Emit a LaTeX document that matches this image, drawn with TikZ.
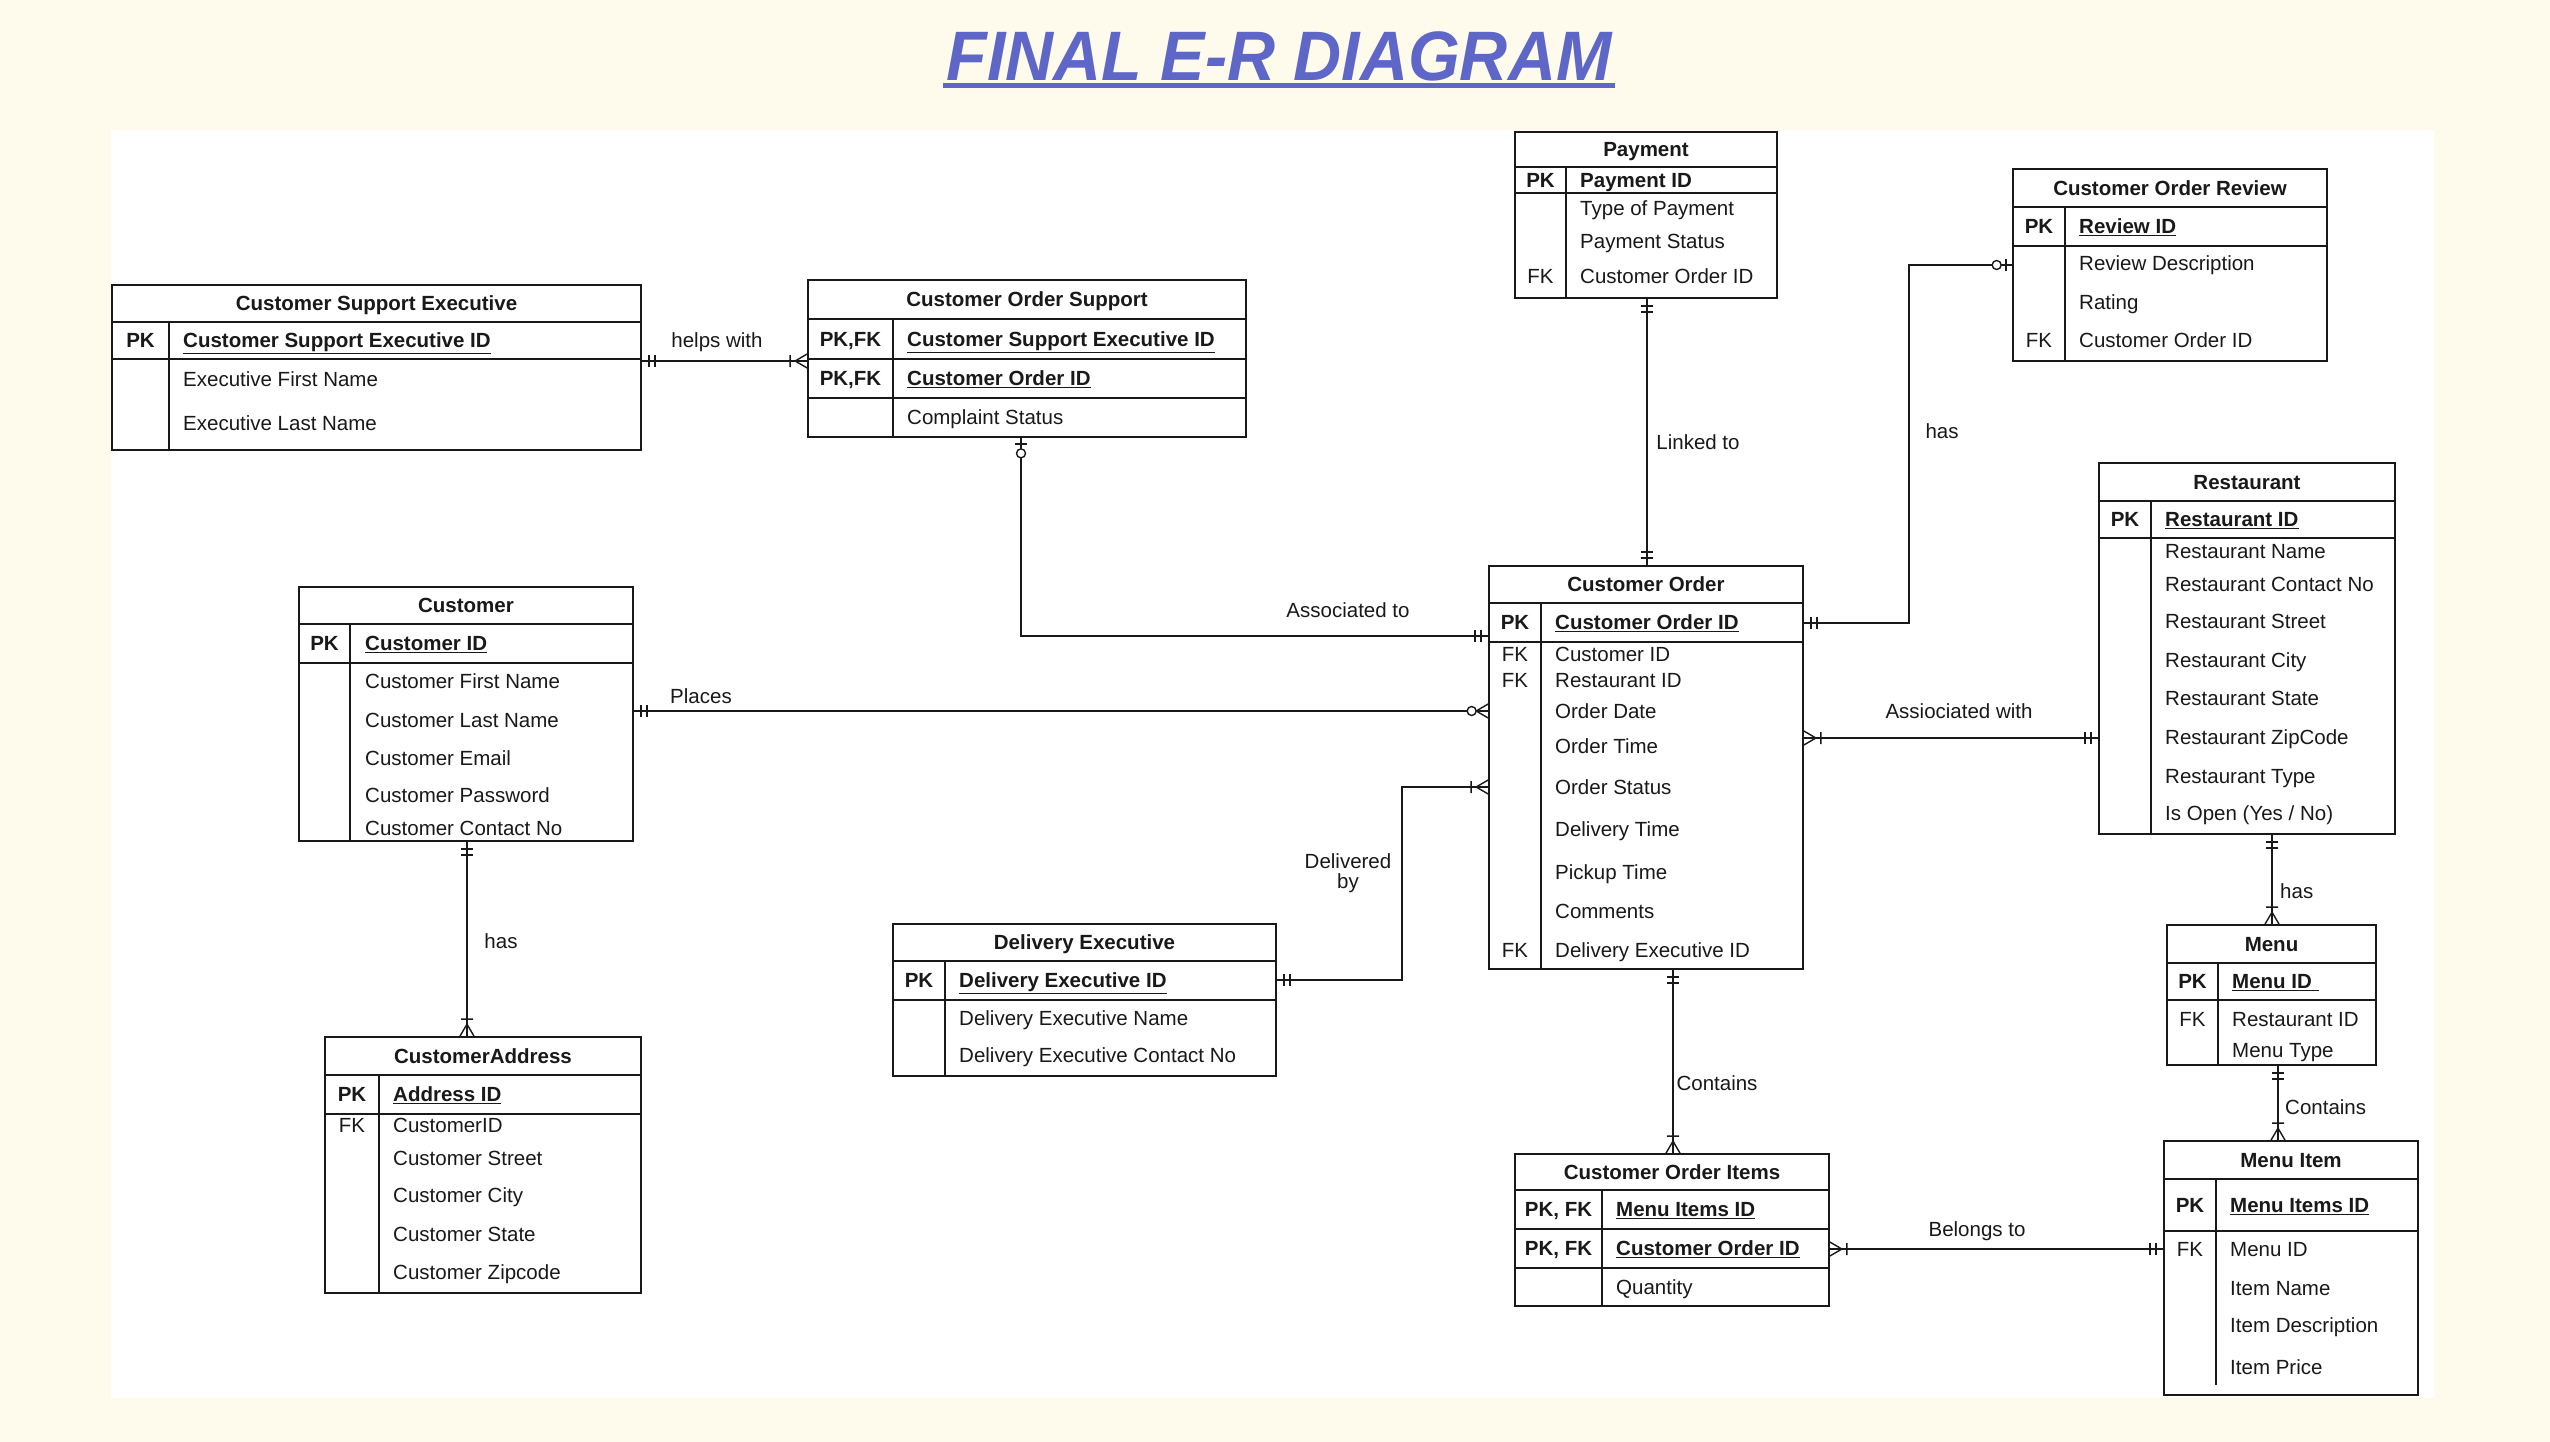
\documentclass[tikz,border=0pt]{standalone}
\usepackage{fontspec}
\setmainfont{Liberation Sans}
\newfontfamily\titlefont[FakeStretch=0.95]{Liberation Sans}
\usetikzlibrary{calc}
\definecolor{cream}{RGB}{254,250,236}
\definecolor{titleblue}{RGB}{94,103,200}
\definecolor{ink}{RGB}{25,25,25}
\tikzset{
 ebox/.style={draw=ink, line width=1.7pt, inner sep=0pt, fill=white},
 sepl/.style={draw=ink, line width=1.7pt},
 conn/.style={draw=ink, line width=1.4pt},
 ttl/.style={font=\fontsize{20.5}{24}\selectfont\bfseries, text height=14.5pt, text depth=0pt, inner sep=0pt, text=ink},
 key/.style={ttl},
 fkey/.style={font=\fontsize{20.5}{24}\selectfont, text height=14.5pt, text depth=0pt, inner sep=0pt, text=ink},
 att/.style={fkey, anchor=west},
 pka/.style={ttl, anchor=west},
 lbl/.style={font=\fontsize{20.5}{24}\selectfont, text height=14.5pt, text depth=0pt, inner sep=0pt, text=ink},
 lbltwo/.style={font=\fontsize{20.5}{20}\selectfont, inner sep=0pt, align=center, text=ink},
 pics/one/.style={code={\draw[conn] (7,-6)--(7,6) (13,-6)--(13,6);}},
 pics/onemany/.style={code={\draw[conn] (0,-7)--(12,0)--(0,7) (17,-6)--(17,6);}},
 pics/zeroone/.style={code={\draw[conn] (6,-6)--(6,6); \draw[conn, fill=white] (15.5,0) circle (4.5);}},
 pics/zeromany/.style={code={\draw[conn] (0,-7)--(12,0)--(0,7); \draw[conn, fill=white] (16.5,0) circle (4.5);}},
}
% name, x1, y1, x2, y2, divider x, header bottom, pk bottom, divider end
\newcommand\entbox[9]{%
 \node[ebox, minimum width={(#4-#2)*1pt}, minimum height={(#5-#3)*1pt}] (#1) at ({(#2+#4)/2},{(#3+#5)/2}) {};
 \draw[sepl] (#2,#7) -- (#4,#7) (#2,#8) -- (#4,#8) (#6,#7) -- (#6,#9);
}
\begin{document}
\begin{tikzpicture}[x=1pt,y=-1pt]
\useasboundingbox (0,0) rectangle (2550,1442);
\fill[cream] (0,0) rectangle (2550,1442);
\fill[white] (111,130) rectangle (2434,1398);

% title
\node[font=\titlefont\fontsize{70}{80}\selectfont\bfseries\itshape, text=titleblue, inner sep=0pt] (title) at (1279,56) {FINAL E-R DIAGRAM};
\draw[titleblue, line width=5pt] ($(title.south west)+(-3,5)$) -- ($(title.south east)+(3,5)$);

% Customer Support Executive
\entbox{cse}{112}{285}{641}{450}{169}{322}{359}{450}
\node[ttl] (cse-t) at (376.5,303.5) {Customer Support Executive};
\node[key] (cse-k1) at (140.5,340.5) {PK};
\node[pka] (cse-a1) at (183,340.5) {\underline{Customer Support Executive ID}};
\node[att] (cse-a2) at (183,379) {Executive First Name};
\node[att] (cse-a3) at (183,423) {Executive Last Name};

% Customer Order Support
\entbox{cos}{808}{280}{1246}{437}{893}{319}{359}{437}
\draw[sepl] (808,398) -- (1246,398);
\node[ttl] (cos-t) at (1027,299.5) {Customer Order Support};
\node[key] (cos-k1) at (850.5,339) {PK,FK};
\node[pka] (cos-a1) at (907,339) {\underline{Customer Support Executive ID}};
\node[key] (cos-k2) at (850.5,378.5) {PK,FK};
\node[pka] (cos-a2) at (907,378.5) {\underline{Customer Order ID}};
\node[att] (cos-a3) at (907,417.5) {Complaint Status};

% Payment
\entbox{pay}{1515}{132}{1777}{298}{1566}{167}{193}{298}
\node[ttl] (pay-t) at (1646,149.5) {Payment};
\node[key] (pay-k1) at (1540.5,180) {PK};
\node[pka] (pay-a1) at (1580,180) {\underline{Payment ID}};
\node[att] (pay-a2) at (1580,208) {Type of Payment};
\node[att] (pay-a3) at (1580,241) {Payment Status};
\node[fkey] (pay-k4) at (1540.5,276) {FK};
\node[att] (pay-a4) at (1580,276) {Customer Order ID};

% Customer Order Review
\entbox{cor}{2013}{169}{2327}{361}{2065}{207}{246}{361}
\node[ttl] (cor-t) at (2170,188) {Customer Order Review};
\node[key] (cor-k1) at (2039,226.5) {PK};
\node[pka] (cor-a1) at (2079,226.5) {\underline{Review ID}};
\node[att] (cor-a2) at (2079,263) {Review Description};
\node[att] (cor-a3) at (2079,302) {Rating};
\node[fkey] (cor-k4) at (2039,340) {FK};
\node[att] (cor-a4) at (2079,340) {Customer Order ID};

% Restaurant
\entbox{res}{2099}{463}{2395}{834}{2151}{501}{538}{834}
\node[ttl] (res-t) at (2247,482) {Restaurant};
\node[key] (res-k1) at (2125,519.5) {PK};
\node[pka] (res-a1) at (2165,519.5) {\underline{Restaurant ID}};
\node[att] (res-a2) at (2165,551) {Restaurant Name};
\node[att] (res-a3) at (2165,584) {Restaurant Contact No};
\node[att] (res-a4) at (2165,621) {Restaurant Street};
\node[att] (res-a5) at (2165,660) {Restaurant City};
\node[att] (res-a6) at (2165,698) {Restaurant State};
\node[att] (res-a7) at (2165,737) {Restaurant ZipCode};
\node[att] (res-a8) at (2165,776) {Restaurant Type};
\node[att] (res-a9) at (2165,813) {Is Open (Yes / No)};

% Customer Order
\entbox{co}{1489}{566}{1803}{969}{1541}{603}{642}{969}
\node[ttl] (co-t) at (1646,584.5) {Customer Order};
\node[key] (co-k1) at (1515,622.5) {PK};
\node[pka] (co-a1) at (1555,622.5) {\underline{Customer Order ID}};
\node[fkey] (co-k2) at (1515,654) {FK};
\node[att] (co-a2) at (1555,654) {Customer ID};
\node[fkey] (co-k3) at (1515,680) {FK};
\node[att] (co-a3) at (1555,680) {Restaurant ID};
\node[att] (co-a4) at (1555,711) {Order Date};
\node[att] (co-a5) at (1555,746) {Order Time};
\node[att] (co-a6) at (1555,787) {Order Status};
\node[att] (co-a7) at (1555,829) {Delivery Time};
\node[att] (co-a8) at (1555,872) {Pickup Time};
\node[att] (co-a9) at (1555,911) {Comments};
\node[fkey] (co-k10) at (1515,950) {FK};
\node[att] (co-a10) at (1555,950) {Delivery Executive ID};

% Customer
\entbox{cus}{299}{587}{633}{841}{350}{624}{663}{841}
\node[ttl] (cus-t) at (466,605.5) {Customer};
\node[key] (cus-k1) at (324.5,643.5) {PK};
\node[pka] (cus-a1) at (365,643.5) {\underline{Customer ID}};
\node[att] (cus-a2) at (365,681) {Customer First Name};
\node[att] (cus-a3) at (365,720) {Customer Last Name};
\node[att] (cus-a4) at (365,758) {Customer Email};
\node[att] (cus-a5) at (365,795) {Customer Password};
\node[att] (cus-a6) at (365,828) {Customer Contact No};

% Customer Address
\entbox{cad}{325}{1037}{641}{1293}{379}{1075}{1114}{1293}
\node[ttl] (cad-t) at (483,1056) {CustomerAddress};
\node[key] (cad-k1) at (352,1094.5) {PK};
\node[pka] (cad-a1) at (393,1094.5) {\underline{Address ID}};
\node[fkey] (cad-k2) at (352,1125) {FK};
\node[att] (cad-a2) at (393,1125) {CustomerID};
\node[att] (cad-a3) at (393,1158) {Customer Street};
\node[att] (cad-a4) at (393,1195) {Customer City};
\node[att] (cad-a5) at (393,1234) {Customer State};
\node[att] (cad-a6) at (393,1272) {Customer Zipcode};

% Delivery Executive
\entbox{de}{893}{924}{1276}{1076}{945}{961}{1000}{1076}
\node[ttl] (de-t) at (1084.5,942.5) {Delivery Executive};
\node[key] (de-k1) at (919,980.5) {PK};
\node[pka] (de-a1) at (959,980.5) {\underline{Delivery Executive ID}};
\node[att] (de-a2) at (959,1018) {Delivery Executive Name};
\node[att] (de-a3) at (959,1055) {Delivery Executive Contact No};

% Menu
\entbox{men}{2167}{925}{2376}{1065}{2218}{963}{1000}{1065}
\node[ttl] (men-t) at (2271.5,944) {Menu};
\node[key] (men-k1) at (2192.5,981.5) {PK};
\node[pka] (men-a1) at (2232,981.5) {\underline{Menu ID\,\,}};
\node[fkey] (men-k2) at (2192.5,1019) {FK};
\node[att] (men-a2) at (2232,1019) {Restaurant ID};
\node[att] (men-a3) at (2232,1050) {Menu Type};

% Customer Order Items
\entbox{coi}{1515}{1154}{1829}{1306}{1602}{1190}{1229}{1306}
\draw[sepl] (1515,1268) -- (1829,1268);
\node[ttl] (coi-t) at (1672,1172) {Customer Order Items};
\node[key] (coi-k1) at (1558.5,1209.5) {PK, FK};
\node[pka] (coi-a1) at (1616,1209.5) {\underline{Menu Items ID}};
\node[key] (coi-k2) at (1558.5,1248.5) {PK, FK};
\node[pka] (coi-a2) at (1616,1248.5) {\underline{Customer Order ID}};
\node[att] (coi-a3) at (1616,1287) {Quantity};

% Menu Item
\entbox{mi}{2164}{1141}{2418}{1395}{2216}{1179}{1231}{1385}
\node[ttl] (mi-t) at (2291,1160) {Menu Item};
\node[key] (mi-k1) at (2190,1205) {PK};
\node[pka] (mi-a1) at (2230,1205) {\underline{Menu Items ID}};
\node[fkey] (mi-k2) at (2190,1249) {FK};
\node[att] (mi-a2) at (2230,1249) {Menu ID};
\node[att] (mi-a3) at (2230,1288) {Item Name};
\node[att] (mi-a4) at (2230,1325) {Item Description};
\node[att] (mi-a5) at (2230,1367) {Item Price};

% ---------- connectors ----------
% helps with
\draw[conn] (cse.east |- 0,361) -- (cos.west |- 0,361);
\pic at (cse.east |- 0,361) {one};
\pic[rotate=180] at (cos.west |- 0,361) {onemany};
\node[lbl] (l-helps) at (717,340) {helps with};

% Associated to
\draw[conn] (cos.south -| 1021,0) |- (co.west |- 0,636);
\pic[rotate=-90] at (cos.south -| 1021,0) {zeroone};
\pic[rotate=180] at (co.west |- 0,636) {one};
\node[lbl] (l-assoc) at (1348,610) {Associated to};

% Places
\draw[conn] (cus.east |- 0,711) -- (co.west |- 0,711);
\pic at (cus.east |- 0,711) {one};
\pic[rotate=180] at (co.west |- 0,711) {zeromany};
\node[lbl] (l-places) at (701,696) {Places};

% Delivered by
\draw[conn] (de.east |- 0,980) -| (1402,787) -- (co.west |- 0,787);
\pic at (de.east |- 0,980) {one};
\pic[rotate=180] at (co.west |- 0,787) {onemany};
\node[lbltwo] (l-deliv) at (1348,873) {Delivered\\by};

% has (customer - address)
\draw[conn] (cus.south -| 467,0) -- (cad.north -| 467,0);
\pic[rotate=-90] at (cus.south -| 467,0) {one};
\pic[rotate=90] at (cad.north -| 467,0) {onemany};
\node[lbl] (l-has1) at (501,941) {has};

% Linked to
\draw[conn] (pay.south -| 1647,0) -- (co.north -| 1647,0);
\pic[rotate=-90] at (pay.south -| 1647,0) {one};
\pic[rotate=90] at (co.north -| 1647,0) {one};
\node[lbl] (l-linked) at (1698,442) {Linked to};

% has (order - review)
\draw[conn] (co.east |- 0,623) -| (1909,265) -- (cor.west |- 0,265);
\pic at (co.east |- 0,623) {one};
\pic[rotate=180] at (cor.west |- 0,265) {zeroone};
\node[lbl] (l-has2) at (1942,431) {has};

% Assiociated with
\draw[conn] (co.east |- 0,738) -- (res.west |- 0,738);
\pic at (co.east |- 0,738) {onemany};
\pic[rotate=180] at (res.west |- 0,738) {one};
\node[lbl] (l-assw) at (1959,711) {Assiociated with};

% Contains (order - items)
\draw[conn] (co.south -| 1673,0) -- (coi.north -| 1673,0);
\pic[rotate=-90] at (co.south -| 1673,0) {one};
\pic[rotate=90] at (coi.north -| 1673,0) {onemany};
\node[lbl] (l-cont1) at (1717,1083) {Contains};

% has (restaurant - menu)
\draw[conn] (res.south -| 2272,0) -- (men.north -| 2272,0);
\pic[rotate=-90] at (res.south -| 2272,0) {one};
\pic[rotate=90] at (men.north -| 2272,0) {onemany};
\node[lbl, anchor=west] (l-has3) at (2280,891) {has};

% Contains (menu - menu item)
\draw[conn] (men.south -| 2278,0) -- (mi.north -| 2278,0);
\pic[rotate=-90] at (men.south -| 2278,0) {one};
\pic[rotate=90] at (mi.north -| 2278,0) {onemany};
\node[lbl, anchor=west] (l-cont2) at (2285,1107) {Contains};

% Belongs to
\draw[conn] (coi.east |- 0,1249) -- (mi.west |- 0,1249);
\pic at (coi.east |- 0,1249) {onemany};
\pic[rotate=180] at (mi.west |- 0,1249) {one};
\node[lbl] (l-belongs) at (1977,1229) {Belongs to};
\end{tikzpicture}
\end{document}
